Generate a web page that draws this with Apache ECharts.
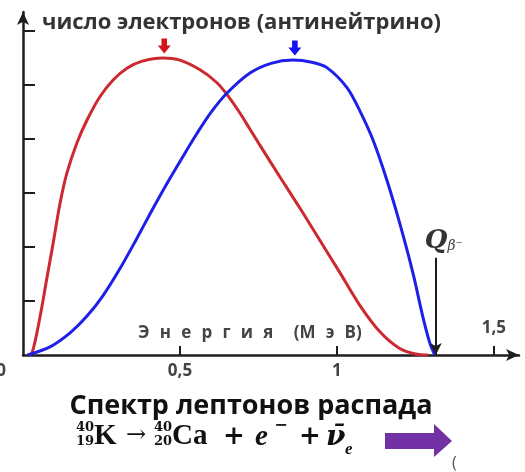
<!DOCTYPE html>
<html>
<head>
<meta charset="utf-8">
<script src="https://cdn.jsdelivr.net/npm/echarts@6/dist/echarts.min.js"></script>
<style>
  html, body { margin: 0; padding: 0; background: #fff; }
  #chart { width: 525px; height: 472px; }
</style>
</head>
<body>
<div id="chart"></div>
<script>
// Beta spectrum of 40K: electrons (red) and antineutrinos (blue)
const electronE = [0.015, 0.029, 0.054, 0.076, 0.096, 0.118, 0.140, 0.172, 0.204, 0.245, 0.287, 0.331, 0.38, 0.446, 0.5, 0.564, 0.618, 0.65, 0.691, 0.723, 0.755, 0.818, 0.882, 0.946, 1.01, 1.073, 1.137, 1.2, 1.25, 1.29];
const electronN = [0, 0.04, 0.70, 1.42, 2.07, 2.81, 3.37, 3.93, 4.35, 4.78, 5.09, 5.31, 5.44, 5.5, 5.46, 5.28, 5.04, 4.82, 4.48, 4.18, 3.88, 3.30, 2.72, 2.12, 1.52, 0.92, 0.43, 0.12, 0.02, 0];
const neutrinoE = [0.015, 0.086, 0.150, 0.204, 0.255, 0.309, 0.36, 0.41, 0.46, 0.51, 0.554, 0.60, 0.65, 0.723, 0.79, 0.86, 0.92, 0.968, 1.032, 1.073, 1.115, 1.159, 1.2, 1.242, 1.274, 1.296, 1.312];
const neutrinoN = [0, 0.15, 0.41, 0.72, 1.1, 1.6, 2.13, 2.67, 3.19, 3.68, 4.1, 4.5, 4.85, 5.22, 5.4, 5.46, 5.42, 5.32, 4.95, 4.52, 3.98, 3.24, 2.44, 1.52, 0.70, 0.22, 0];

const electronPeak = [0.45, 5.5];
const neutrinoPeak = [0.866, 5.46];
const qBeta = 1.315;

const xTickValues = [0.5, 1, 1.5];
const xLabelValues = [0, 0.5, 1];
const xLabelUpper = [1.5];
const yTickValues = [1, 2, 3, 4, 5, 6];

const yTitle = 'число электронов (антинейтрино)';
const sp = '\u2002\u200A';
const xTitle = ['Э', 'н', 'е', 'р', 'г', 'и', 'я'].join(sp) + sp + sp + '(' + ['М', 'э', 'В'].join(sp) + ')';
const caption = 'Спектр лептонов распада';

const pair = (xs, ys) => xs.map((x, i) => [x, ys[i]]);
const fmt = v => String(v).replace('.', ',');

const axisColor = '#1e1e1e';
const downArrow = 'path://M3,0 L9,0 L9,7 L13,7 L6,15 L-1,7 L3,7 Z';

const chart = echarts.init(document.getElementById('chart'), null, { renderer: 'canvas' });

chart.setOption({
  animation: false,
  backgroundColor: '#fff',
  grid: { left: 23, top: 12, width: 496, height: 343, containLabel: false, outerBoundsMode: 'none' },
  xAxis: [{
    type: 'value', min: 0, max: 1.58,
    splitLine: { show: false },
    axisLine: { show: true, onZero: false, symbol: ['none', 'arrow'], symbolSize: [9, 13], lineStyle: { color: axisColor, width: 2.5 } },
    axisTick: { show: true, inside: true, length: 9, customValues: xTickValues, lineStyle: { color: axisColor, width: 2 } },
    axisLabel: {
      customValues: xLabelValues, margin: 8,
      color: '#444', fontFamily: 'Open Sans', fontWeight: 'bold', fontSize: 17,
      formatter: v => v === 0 ? '{o|0}' : fmt(v),
      rich: { o: { color: '#444', fontFamily: 'Open Sans', fontWeight: 'bold', fontSize: 17, padding: [0, 44, 0, 0] } }
    },
    name: xTitle, nameLocation: 'middle', nameGap: -30,
    nameTextStyle: { color: '#444', fontFamily: 'Open Sans', fontWeight: 'bold', fontSize: 17, padding: [0, 42, 0, 0] }
  }, {
    type: 'value', min: 0, max: 1.58, position: 'bottom',
    splitLine: { show: false }, axisLine: { show: false }, axisTick: { show: false },
    axisLabel: {
      inside: true, customValues: xLabelUpper, margin: 18,
      color: '#444', fontFamily: 'Open Sans', fontWeight: 'bold', fontSize: 17,
      formatter: v => fmt(v)
    }
  }],
  yAxis: {
    type: 'value', min: 0, max: 6.35,
    splitLine: { show: false },
    axisLine: { show: true, symbol: ['none', 'arrow'], symbolSize: [9, 13], lineStyle: { color: axisColor, width: 2.5 } },
    axisTick: { show: true, inside: true, length: 12, customValues: yTickValues, lineStyle: { color: axisColor, width: 2 } },
    axisLabel: { show: false },
    name: yTitle, nameLocation: 'end', nameGap: -11,
    nameTextStyle: { align: 'left', verticalAlign: 'middle', color: '#333', fontFamily: 'Open Sans', fontWeight: 'bold', fontSize: 22, padding: [0, 0, 0, 19] }
  },
  series: [{
    type: 'line', name: 'electrons', data: pair(electronE, electronN),
    smooth: 0.3, showSymbol: false,
    lineStyle: { color: '#cc2a30', width: 3 },
    markPoint: {
      silent: true, symbol: downArrow, symbolSize: [13, 15], symbolOffset: [0, -12],
      itemStyle: { color: '#d4141c' }, label: { show: false },
      data: [{ coord: electronPeak }]
    }
  }, {
    type: 'line', name: 'antineutrinos', data: pair(neutrinoE, neutrinoN),
    smooth: 0.3, showSymbol: false,
    lineStyle: { color: '#1f1fe8', width: 3 },
    markPoint: {
      silent: true, symbol: downArrow, symbolSize: [13, 15], symbolOffset: [0, -12],
      itemStyle: { color: '#1414f0' }, label: { show: false },
      data: [{ coord: neutrinoPeak }]
    },
    markLine: {
      silent: true, symbol: ['none', 'arrow'], symbolSize: [9, 12],
      lineStyle: { color: '#1e1e1e', width: 2, type: 'solid' },
      label: {
        show: true, position: 'start', distance: 4,
        formatter: '{q|Q}{b|β⁻}',
        rich: {
          q: { fontFamily: 'DejaVu Serif', fontStyle: 'italic', fontWeight: 'bold', fontSize: 26, color: '#333' },
          b: { fontFamily: 'DejaVu Serif', fontStyle: 'italic', fontSize: 14, color: '#444', padding: [12, 0, 0, 0] }
        },
        padding: [0, 0, 0, 16]
      },
      data: [[{ coord: [qBeta, 1.8] }, { coord: [qBeta, 0] }]]
    }
  }],
  graphic: [
    { type: 'text', x: 251, y: 406, style: { text: caption, align: 'center', verticalAlign: 'middle', fill: '#111', font: 'bold 27px "Open Sans"' } },
    { type: 'text', x: 85, y: 428, style: { text: '40', align: 'center', verticalAlign: 'middle', fill: '#111', font: 'bold 13px "DejaVu Serif"' } },
    { type: 'text', x: 85, y: 442, style: { text: '19', align: 'center', verticalAlign: 'middle', fill: '#111', font: 'bold 13px "DejaVu Serif"' } },
    { type: 'text', x: 94, y: 437, style: { text: 'K', align: 'left', verticalAlign: 'middle', fill: '#111', font: 'bold 29px "Liberation Serif"' } },
    { type: 'text', x: 136, y: 436, style: { text: '→', align: 'center', verticalAlign: 'middle', fill: '#111', font: '24px "DejaVu Serif"' } },
    { type: 'text', x: 163, y: 428, style: { text: '40', align: 'center', verticalAlign: 'middle', fill: '#111', font: 'bold 13px "DejaVu Serif"' } },
    { type: 'text', x: 163, y: 442, style: { text: '20', align: 'center', verticalAlign: 'middle', fill: '#111', font: 'bold 13px "DejaVu Serif"' } },
    { type: 'text', x: 172, y: 437, style: { text: 'Ca', align: 'left', verticalAlign: 'middle', fill: '#111', font: 'bold 29px "Liberation Serif"' } },
    { type: 'text', x: 234, y: 437, style: { text: '+', align: 'center', verticalAlign: 'middle', fill: '#111', font: 'bold 26px "DejaVu Serif"' } },
    { type: 'text', x: 255, y: 438, style: { text: 'e', align: 'left', verticalAlign: 'middle', fill: '#111', font: 'italic bold 29px "Liberation Serif"' } },
    { type: 'text', x: 281, y: 426, style: { text: '−', align: 'center', verticalAlign: 'middle', fill: '#111', font: 'bold 16px "DejaVu Serif"' } },
    { type: 'text', x: 310, y: 437, style: { text: '+', align: 'center', verticalAlign: 'middle', fill: '#111', font: 'bold 26px "DejaVu Serif"' } },
    { type: 'text', x: 326, y: 438, style: { text: 'ν̄', align: 'left', verticalAlign: 'middle', fill: '#111', font: 'italic bold 28px "DejaVu Serif"' } },
    { type: 'text', x: 345, y: 450, style: { text: 'e', align: 'left', verticalAlign: 'middle', fill: '#111', font: 'italic bold 17px "Liberation Serif"' } },
    { type: 'polygon', shape: { points: [[385, 433], [434, 433], [434, 424], [452, 441], [434, 457], [434, 449], [385, 449]] }, style: { fill: '#7232a6' } },
    { type: 'text', x: 452, y: 463, style: { text: '(', align: 'left', verticalAlign: 'middle', fill: '#555', font: '16px "Open Sans"' } }
  ]
});
</script>
</body>
</html>
